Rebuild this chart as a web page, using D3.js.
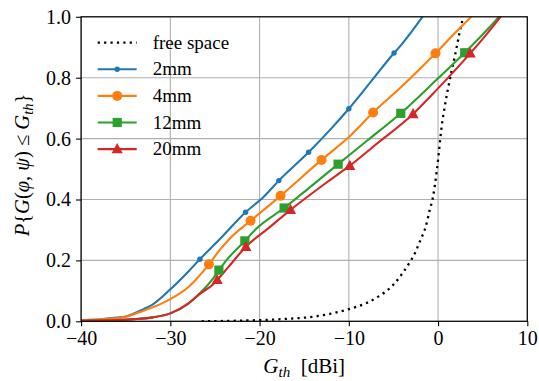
<!DOCTYPE html>
<html>
<head>
<meta charset="utf-8">
<script src="https://cdn.jsdelivr.net/npm/d3@7"></script>
<style>
  html, body { margin: 0; padding: 0; background: #fff; }
  svg { display: block; }
  svg text { font-family: "Liberation Serif", "Times New Roman", serif; }
</style>
</head>
<body>
<svg id="chart" width="539" height="381"></svg>
<script>
// CDF of antenna gain
const xTicks = [-40, -30, -20, -10, 0, 10];
const yTicks = [0.0, 0.2, 0.4, 0.6, 0.8, 1.0];

const freeX = [-26.5, -24, -21, -17, -14, -12, -10, -8, -6.53, -5.89, -4.85, -3.99, -3.25, -2.61, -1.97, -1.38, -0.93, -0.56, -0.18, 0.04, 0.3, 0.38, 0.75, 1.12, 1.5, 1.87, 2.13, 2.43, 2.69, 2.85];
const freeY = [0.0, 0.001, 0.003, 0.008, 0.015, 0.025, 0.04, 0.06, 0.084, 0.097, 0.125, 0.158, 0.19, 0.223, 0.267, 0.311, 0.366, 0.409, 0.486, 0.541, 0.614, 0.634, 0.705, 0.765, 0.82, 0.869, 0.907, 0.951, 0.984, 1.01];

const mm2X = [-40, -38, -36, -35, -33, -32, -30, -28, -26.69, -24.45, -21.57, -19.5, -17.84, -14.51, -12, -10.0, -7.5, -4.93, -4.29, -3, -1.5];
const mm2Y = [0.004, 0.006, 0.012, 0.016, 0.04, 0.055, 0.105, 0.163, 0.204, 0.27, 0.358, 0.41, 0.462, 0.555, 0.632, 0.698, 0.788, 0.881, 0.902, 0.95, 1.01];
const mm2MarkX = [-26.69, -21.57, -17.84, -14.51, -10.0, -4.93];
const mm2MarkY = [0.204, 0.358, 0.462, 0.555, 0.698, 0.881];

const mm4X = [-40, -37, -35, -33, -31, -30, -28, -25.68, -24.5, -23.3, -21.01, -17.65, -13.06, -10, -7.28, -4.29, -0.29, 2, 3.9];
const mm4Y = [0.004, 0.008, 0.015, 0.035, 0.058, 0.073, 0.112, 0.187, 0.233, 0.273, 0.33, 0.412, 0.53, 0.605, 0.686, 0.765, 0.88, 0.95, 1.005];
const mm4MarkX = [-25.68, -21.01, -17.65, -13.06, -7.28, -0.29];
const mm4MarkY = [0.187, 0.33, 0.412, 0.53, 0.686, 0.88];

const mm12X = [-40, -36, -34, -32, -30, -28, -26.7, -25.2, -24.56, -23.7, -21.65, -20.34, -17.25, -14, -11.2, -8, -4.18, 0, 2.99, 5, 7.0];
const mm12Y = [0.002, 0.004, 0.007, 0.013, 0.026, 0.058, 0.092, 0.141, 0.168, 0.201, 0.264, 0.305, 0.372, 0.449, 0.516, 0.592, 0.683, 0.798, 0.882, 0.942, 1.005];
const mm12MarkX = [-24.56, -21.65, -17.25, -11.2, -4.18, 2.99];
const mm12MarkY = [0.168, 0.264, 0.372, 0.516, 0.683, 0.882];

const mm20X = [-40, -36, -34, -32, -30, -28, -26.7, -25.2, -24.75, -23.5, -21.53, -19, -16.53, -12.3, -9.89, -7, -2.8, 0, 3.6, 5.5, 7.05];
const mm20Y = [0.002, 0.004, 0.007, 0.013, 0.026, 0.058, 0.09, 0.122, 0.136, 0.178, 0.245, 0.306, 0.366, 0.46, 0.511, 0.58, 0.681, 0.765, 0.88, 0.945, 1.002];
const mm20MarkX = [-24.75, -21.53, -16.53, -9.89, -2.8, 3.6];
const mm20MarkY = [0.136, 0.245, 0.366, 0.511, 0.681, 0.88];

const seriesNames = ['free space', '2mm', '4mm', '12mm', '20mm'];
const seriesColors = ['#000000', '#1f77b4', '#ff7f0e', '#2ca02c', '#d62728'];

const zip = (xs, ys) => xs.map((v, i) => [v, ys[i]]);

const series = [
  { name: seriesNames[0], color: seriesColors[0], line: zip(freeX, freeY), marks: [], shape: null },
  { name: seriesNames[1], color: seriesColors[1], line: zip(mm2X, mm2Y), marks: zip(mm2MarkX, mm2MarkY), shape: 'dot' },
  { name: seriesNames[2], color: seriesColors[2], line: zip(mm4X, mm4Y), marks: zip(mm4MarkX, mm4MarkY), shape: 'circle' },
  { name: seriesNames[3], color: seriesColors[3], line: zip(mm12X, mm12Y), marks: zip(mm12MarkX, mm12MarkY), shape: 'square' },
  { name: seriesNames[4], color: seriesColors[4], line: zip(mm20X, mm20Y), marks: zip(mm20MarkX, mm20MarkY), shape: 'triangle' }
];

const width = 539, height = 381;
const margin = { top: 16.8, right: 11.7, bottom: 59.7, left: 81.1 };
const innerW = width - margin.left - margin.right;
const innerH = height - margin.top - margin.bottom;
const FONT = '"Liberation Serif", "Times New Roman", serif';

const svg = d3.select('#chart');
const g = svg.append('g').attr('transform', 'translate(' + margin.left + ',' + margin.top + ')');

const x = d3.scaleLinear().domain([-40, 10]).range([0, innerW]);
const y = d3.scaleLinear().domain([0, 1]).range([innerH, 0]);

svg.append('defs').append('clipPath').attr('id', 'plotclip')
  .append('rect').attr('width', innerW).attr('height', innerH);

// grid
g.append('g').selectAll('line').data(xTicks).join('line')
  .attr('x1', d => x(d)).attr('x2', d => x(d))
  .attr('y1', 0).attr('y2', innerH)
  .attr('stroke', '#b0b0b0').attr('stroke-width', 1.1);
g.append('g').selectAll('line').data(yTicks).join('line')
  .attr('x1', 0).attr('x2', innerW)
  .attr('y1', d => y(d)).attr('y2', d => y(d))
  .attr('stroke', '#b0b0b0').attr('stroke-width', 1.1);

// lines
const line = d3.line().x(d => x(d[0])).y(d => y(d[1])).curve(d3.curveMonotoneX);
const plot = g.append('g').attr('clip-path', 'url(#plotclip)');

series.forEach((s, i) => {
  const path = plot.append('path')
    .datum(s.line)
    .attr('fill', 'none')
    .attr('stroke', s.color)
    .attr('stroke-width', 2.1)
    .attr('d', line);
  if (i === 0) path.attr('stroke-dasharray', '2.2,4.2').attr('stroke-width', 2.3);
});

function drawMarker(sel, shape, color) {
  if (shape === 'dot') {
    sel.append('circle').attr('r', 2.7).attr('fill', color);
  } else if (shape === 'circle') {
    sel.append('circle').attr('r', 5).attr('fill', color);
  } else if (shape === 'square') {
    sel.append('rect').attr('x', -4.6).attr('y', -4.6).attr('width', 9.2).attr('height', 9.2).attr('fill', color);
  } else if (shape === 'triangle') {
    sel.append('path').attr('d', 'M0,-6L5.6,4.2L-5.6,4.2Z').attr('fill', color);
  }
}

series.forEach(s => {
  s.marks.forEach(p => {
    const m = g.append('g').attr('transform', 'translate(' + x(p[0]) + ',' + y(p[1]) + ')');
    drawMarker(m, s.shape, s.color);
  });
});

// axes
const xAxis = d3.axisBottom(x).tickValues(xTicks).tickSize(5).tickPadding(5).tickFormat(d3.format('d'));
const yAxis = d3.axisLeft(y).tickValues(yTicks).tickSize(5).tickPadding(5).tickFormat(d3.format('.1f'));

const gx = g.append('g').attr('transform', 'translate(0,' + innerH + ')').call(xAxis);
const gy = g.append('g').call(yAxis);
[gx, gy].forEach(a => {
  a.attr('font-family', FONT).attr('font-size', 20);
  a.select('.domain').remove();
  a.selectAll('line').attr('stroke', '#000').attr('stroke-width', 1.1);
  a.selectAll('text').attr('fill', '#000');
});

g.append('rect').attr('width', innerW).attr('height', innerH)
  .attr('fill', 'none').attr('stroke', '#000').attr('stroke-width', 1.2);

// axis labels
const xl = svg.append('text')
  .attr('x', margin.left + innerW / 2).attr('y', 373)
  .attr('text-anchor', 'middle').attr('font-family', FONT).attr('font-size', 21);
xl.append('tspan').attr('font-style', 'italic').text('G');
xl.append('tspan').attr('font-style', 'italic').attr('font-size', 15).attr('dy', 4).text('th');
xl.append('tspan').attr('dy', -4).text('\u2002[dBi]');

const yl = svg.append('text')
  .attr('transform', 'translate(29,165) rotate(-90)')
  .attr('text-anchor', 'middle').attr('font-family', FONT).attr('font-size', 20.5);
yl.append('tspan').attr('font-style', 'italic').text('P');
yl.append('tspan').text('{');
yl.append('tspan').attr('font-style', 'italic').text('G');
yl.append('tspan').text('(');
yl.append('tspan').attr('font-style', 'italic').text('φ');
yl.append('tspan').text(', ');
yl.append('tspan').attr('font-style', 'italic').text('ψ');
yl.append('tspan').text(')\u2005≤\u2005');
yl.append('tspan').attr('font-style', 'italic').text('G');
yl.append('tspan').attr('font-style', 'italic').attr('font-size', 14.5).attr('dy', 4).text('th');
yl.append('tspan').attr('dy', -4).text('}');

// legend
const legend = svg.append('g').attr('transform', 'translate(97.7,42.7)');
series.forEach((s, i) => {
  const row = legend.append('g').attr('transform', 'translate(0,' + (i * 26.6) + ')');
  const ln = row.append('line').attr('x1', 0).attr('x2', 39).attr('y1', 0).attr('y2', 0)
    .attr('stroke', s.color).attr('stroke-width', 2.1);
  if (i === 0) ln.attr('stroke-dasharray', '2.2,4.2').attr('stroke-width', 2.3);
  if (s.shape) {
    const m = row.append('g').attr('transform', 'translate(19.5,0)');
    drawMarker(m, s.shape, s.color);
  }
  row.append('text').attr('x', 55).attr('y', 6).attr('font-family', FONT)
    .attr('font-size', 19).text(s.name);
});
</script>
</body>
</html>
